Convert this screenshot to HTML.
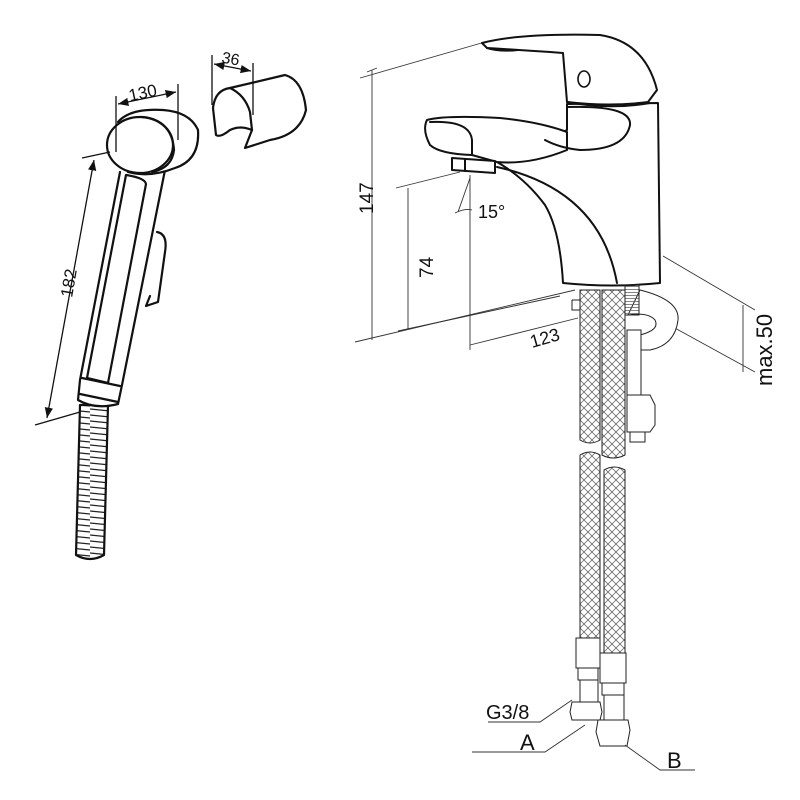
<!DOCTYPE html>
<html><head><meta charset="utf-8"><style>
html,body{margin:0;padding:0;background:#fff;}
svg{display:block;}
text{font-family:"Liberation Sans",sans-serif;fill:#111;}
</style></head><body>
<svg width="800" height="800" viewBox="0 0 800 800" xmlns="http://www.w3.org/2000/svg">
<defs>
<pattern id="braid" width="8" height="8" patternUnits="userSpaceOnUse">
<path d="M0 0 L8 8 M8 0 L0 8" stroke="#555" stroke-width="0.7"/>
</pattern>
<pattern id="thread" width="4" height="3" patternUnits="userSpaceOnUse">
<path d="M0 1.5 L4 1.5" stroke="#666" stroke-width="0.8"/>
</pattern>
<pattern id="coil" width="30" height="6" patternUnits="userSpaceOnUse">
<path d="M0 1 L30 4" stroke="#222" stroke-width="1.2"/>
</pattern>
<marker id="ar" viewBox="0 0 10 10" refX="10" refY="5" markerWidth="8" markerHeight="8" orient="auto-start-reverse"><path d="M0 1 L10 5 L0 9 z" fill="#111"/></marker>
</defs>
<g fill="none" stroke="#111" stroke-width="2.2" stroke-linejoin="round" stroke-linecap="round">
<!-- hose -->
<path d="M80 405 L76 555 Q90 563 104 555 L108 405 Z" fill="url(#coil)"/>
<!-- handle body -->
<path d="M120 172 L80 380 L78 400 Q95 410 118 404 L122 385 L165 170" fill="#fff"/>
<path d="M126 175 Q145 178 146 184 L108 383 L87 378 Z"/>
<path d="M82 378 L120 386 M80 394 L118 402"/>
<!-- trigger -->
<path d="M157 232 Q168 234 165 252 L158 302 L146 306 L150 296"/>
<!-- head -->
<path d="M118 122 Q130 108 163 110 Q190 112 198 130 Q200 160 175 168 Q150 178 128 172" fill="#fff"/>
<ellipse cx="140" cy="145" rx="33" ry="28" fill="#fff"/>
<path d="M142 117 Q172 120 174 150 Q172 168 152 172"/>
<!-- holder -->
<path d="M213 108 Q215 90 230 88 Q245 95 250 112 L252 130 Q240 125 230 130 Q220 138 216 135 Z"/>
<path d="M230 88 L285 75 Q303 80 306 110 Q300 135 270 140 L245 148 L252 130"/>
</g>
<!-- shower dims -->
<g stroke="#111" stroke-width="1.3" fill="none">
<path d="M116 96 L116 152 M178 84 L178 140 M35 425 L80 412 M82 158 L110 152"/>
<path d="M118 104 L176 92" marker-start="url(#ar)" marker-end="url(#ar)"/>
<path d="M212 55 L212 105 M253 63 L253 115"/>
<path d="M214 64 L251 71" marker-start="url(#ar)" marker-end="url(#ar)"/>
<path d="M94 160 L47 418" marker-start="url(#ar)" marker-end="url(#ar)"/>
</g>
<text x="128" y="98" font-size="17" transform="rotate(-12 145 90)">130</text>
<text x="222" y="65" font-size="16" transform="rotate(10 236 58)">36</text>
<text x="0" y="0" font-size="17" transform="translate(72 298) rotate(-80)">182</text>

<!-- faucet dims -->
<g stroke="#333" stroke-width="0.9" fill="none">
<path d="M360 78 L485 42 M372 70 L372 340 M355 342 L575 290 M367 72 L377 68"/>
<path d="M396 188 L460 172 M408 188 L408 330 M398 331 L560 296"/>
<path d="M470 175 L470 350 M470 345 L578 318"/>
<path d="M470 178 L458 212 M455 213 Q465 208 472 210"/>
<path d="M663 256 L755 310 M642 310 L755 372 M743 305 L743 372"/>
</g>
<text x="0" y="0" font-size="19" transform="translate(373 214) rotate(-90)">147</text>
<text x="0" y="0" font-size="19" transform="translate(433 278) rotate(-90)">74</text>
<text x="478" y="218" font-size="18">15°</text>
<text x="0" y="0" font-size="18" transform="translate(532 348) rotate(-16)">123</text>
<text x="0" y="0" font-size="22" transform="translate(772 386) rotate(-90)">max.50</text>

<!-- faucet body -->
<g fill="#fff" stroke="#111" stroke-width="2" stroke-linejoin="round" stroke-linecap="round">
<!-- body cylinder -->
<path d="M567 104 L658 103 L660 283 Q612 288 563 283 Q560 230 545 205 Q525 178 497 162 L567 130 Z"/>
<!-- spout -->
<path d="M427 120 Q445 115 500 118 Q540 122 567 132 L567 150 Q530 165 497 162 L472 155 Q440 154 430 145 Q422 130 427 120 Z"/>
<path d="M430 122 Q470 120 472 140 L472 155" fill="none"/>
<path d="M497 167 Q600 190 617 283" fill="none"/>
<path d="M567 107 Q632 105 630 125 Q625 150 580 150 Q560 148 545 140" fill="none"/>
<!-- aerator -->
<path d="M452 158 L495 161 L495 173 L452 170 Z"/>
<path d="M465 159 L465 171" fill="none"/>
<!-- lever -->
<path d="M482 43 Q520 33 600 35 Q645 42 657 90 L648 102 Q610 107 567 102 L563 53 Q520 50 487 48 Z"/>
<path d="M487 48 Q500 52 518 50" fill="none"/>
<path d="M567 102 Q610 110 650 103" fill="none"/>
</g>
<ellipse cx="584" cy="79" rx="6" ry="8" fill="none" stroke="#111" stroke-width="1.6"/>

<!-- horseshoe bracket -->
<g fill="#fff" stroke="#222" stroke-width="1">
<path d="M640 290 Q680 300 678 320 Q675 345 650 350 L640 350 L640 335 Q660 330 655 320 Q648 312 628 315 Z"/>
<rect x="627" y="330" width="14" height="75"/>
<path d="M627 395 L650 395 L655 405 L655 425 L650 432 L627 432 Z"/>
<rect x="630" y="432" width="15" height="10"/>
<rect x="625" y="285" width="14" height="30" fill="url(#thread)"/>
</g>
<!-- hoses -->
<g stroke="#222" stroke-width="1">
<path d="M580 290 L600 290 L600 440 Q590 446 580 440 Z" fill="url(#braid)"/>
<path d="M602 290 L625 290 L625 455 Q613 461 602 455 Z" fill="url(#braid)"/>
<path d="M580 455 Q590 449 600 455 L600 640 L580 640 Z" fill="url(#braid)"/>
<path d="M604 470 Q614 464 625 470 L625 655 L604 655 Z" fill="url(#braid)"/>
<path d="M572 300 L580 300 M572 300 L572 310 L580 310" fill="none"/>
</g>
<g fill="#fff" stroke="#222" stroke-width="1">
<rect x="576" y="638" width="24" height="30"/>
<rect x="578" y="668" width="20" height="12"/>
<rect x="580" y="680" width="18" height="22"/>
<path d="M572 702 L600 702 L602 712 L600 720 L572 720 L570 712 Z"/>
<rect x="600" y="653" width="26" height="30"/>
<rect x="602" y="683" width="22" height="12"/>
<rect x="604" y="695" width="20" height="25"/>
<path d="M598 720 L628 720 L630 730 L627 746 L600 746 L596 732 Z"/>
</g>
<g stroke="#333" stroke-width="0.9" fill="none">
<path d="M488 722 L540 722 L572 700 M472 752 L545 752 L585 725 M625 745 L660 770 L695 770"/>
</g>
<text x="486" y="719" font-size="20">G3/8</text>
<text x="520" y="750" font-size="22">A</text>
<text x="667" y="768" font-size="22">B</text>
</svg>
</body></html>
